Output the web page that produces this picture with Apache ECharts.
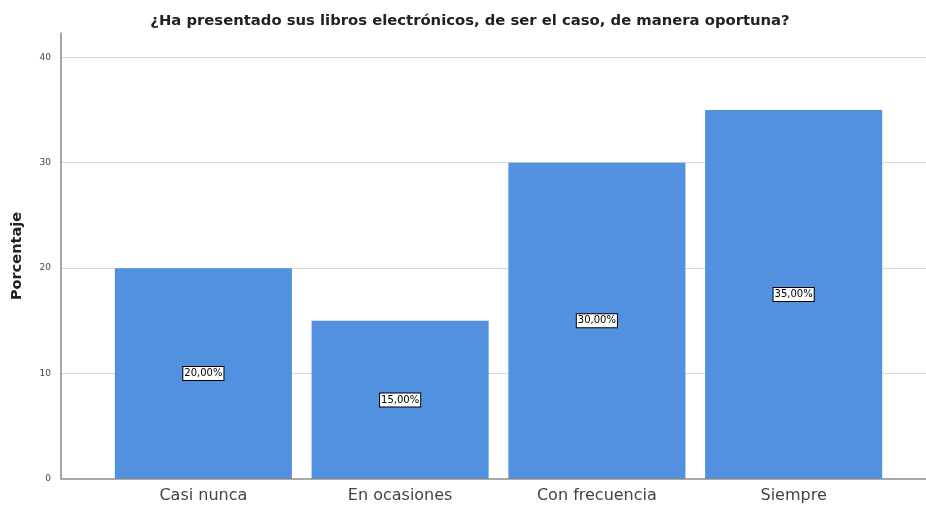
<!DOCTYPE html>
<html>
<head>
<meta charset="utf-8">
<script src="https://cdn.jsdelivr.net/npm/echarts@6/dist/echarts.min.js"></script>
<style>
  html, body { margin: 0; padding: 0; background: #fff; }
  #chart { width: 926px; height: 506px; }
</style>
</head>
<body>
<div id="chart"></div>
<script>
const categories = ["Casi nunca", "En ocasiones", "Con frecuencia", "Siempre"];
const percentages = [20, 15, 30, 35];
const titleText = "¿Ha presentado sus libros electrónicos, de ser el caso, de manera oportuna?";

const chart = echarts.init(document.getElementById("chart"));

const yRange = { min: 0, max: 42.3, interval: 10 };

chart.setOption({
  animation: false,
  backgroundColor: "#fff",
  title: {
    text: titleText,
    left: 465,
    textAlign: "center",
    top: 9,
    textStyle: { fontFamily: "DejaVu Sans", fontSize: 14.8, fontWeight: "bold", color: "#222" }
  },
  grid: [
    { left: 61, right: 0, top: 33, bottom: 27 },
    { left: 105, right: 34, top: 33, bottom: 27 }
  ],
  xAxis: [
    {
      gridIndex: 0,
      type: "value",
      min: 0,
      max: 1,
      axisLine: { show: false },
      axisTick: { show: false },
      axisLabel: { show: false },
      splitLine: { show: false }
    },
    {
      gridIndex: 1,
      type: "category",
      data: categories,
      axisLine: { show: false },
      axisTick: { show: false },
      axisLabel: { fontFamily: "DejaVu Sans", fontSize: 16, color: "#444", margin: 9 }
    }
  ],
  yAxis: [
    {
      gridIndex: 0,
      type: "value",
      ...yRange,
      name: "Porcentaje",
      nameLocation: "middle",
      nameGap: 36,
      nameTextStyle: { fontFamily: "DejaVu Sans", fontSize: 14.5, fontWeight: "bold", color: "#222" },
      axisLine: { show: true, lineStyle: { color: "#888", width: 1.5 } },
      axisTick: { show: false },
      axisLabel: { fontFamily: "DejaVu Sans", fontSize: 9, color: "#444", margin: 10, showMaxLabel: false },
      splitLine: { show: true, showMaxLine: false, lineStyle: { color: "#d8d8d8", width: 1 } }
    },
    {
      gridIndex: 1,
      type: "value",
      ...yRange,
      show: false,
      splitLine: { show: false }
    }
  ],
  series: [
    {
      type: "line",
      xAxisIndex: 0,
      yAxisIndex: 0,
      data: [[0, 0], [1, 0]],
      symbol: "none",
      silent: true,
      lineStyle: { color: "#888", width: 1.5 },
      z: 5
    },
    {
      type: "bar",
      xAxisIndex: 1,
      yAxisIndex: 1,
      data: percentages,
      barCategoryGap: "10%",
      itemStyle: { color: "#5290e0" },
      label: {
        show: true,
        position: "inside",
        formatter: (p) => p.value.toFixed(2).replace(".", ",") + "%",
        fontFamily: "DejaVu Sans",
        fontSize: 10,
        color: "#000",
        backgroundColor: "#fff",
        borderColor: "#000",
        borderWidth: 1,
        padding: [2, 1, 1, 1]
      }
    }
  ]
});
</script>
</body>
</html>
